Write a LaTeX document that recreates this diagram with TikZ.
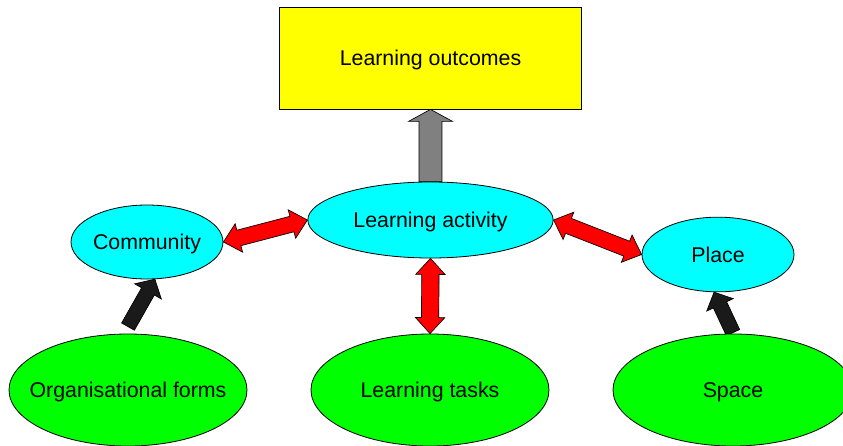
\documentclass[tikz,border=0pt]{standalone}
\usepackage{fontspec}
\setmainfont{Liberation Sans}
\usetikzlibrary{shapes.geometric,calc,backgrounds}

\definecolor{boxyellow}{RGB}{255,255,0}
\definecolor{nodecyan}{RGB}{0,255,255}
\definecolor{nodegreen}{RGB}{0,255,0}
\definecolor{arrowred}{RGB}{255,0,0}
\definecolor{arrowgray}{RGB}{128,128,128}
\definecolor{arrowdark}{RGB}{26,26,26}

\tikzset{
  every node/.style={font=\fontsize{16}{19}\selectfont, inner sep=0pt, text depth=0pt},
  outcomebox/.style={draw, line width=0.6pt, fill=boxyellow, minimum width=227pt, minimum height=76.5pt},
  midnode/.style={draw, ellipse, line width=0.6pt, fill=nodecyan, inner xsep=-4pt},
  basenode/.style={draw, ellipse, line width=0.6pt, fill=nodegreen, inner xsep=-15pt,
    minimum width=178.5pt, minimum height=84pt},
  twoway/.style={draw, line width=0.5pt, fill=arrowred},
  upward/.style={draw, line width=0.5pt, fill=arrowgray},
  feed/.style={draw, line width=0.5pt, fill=arrowdark}
}

% block arrow: style, from, to, half shaft, half head, head length
\newcommand{\blockarrow}[6]{%
  \path (#2) coordinate (ba-s) (#3) coordinate (ba-e);
  \path ($(ba-e)!#6!(ba-s)$) coordinate (ba-h);
  \draw[#1] ($(ba-s)!#4!90:(ba-e)$) -- ($(ba-h)!#4!-90:(ba-s)$) -- ($(ba-h)!#5!-90:(ba-s)$)
    -- (ba-e) -- ($(ba-h)!#5!90:(ba-s)$) -- ($(ba-h)!#4!90:(ba-s)$) -- ($(ba-s)!#4!-90:(ba-e)$) -- cycle;}

% double block arrow: style, from, to, half shaft, half head, head length
\newcommand{\dblarrow}[6]{%
  \path (#2) coordinate (ba-s) (#3) coordinate (ba-e);
  \path ($(ba-e)!#6!(ba-s)$) coordinate (ba-h) ($(ba-s)!#6!(ba-e)$) coordinate (ba-t);
  \draw[#1] (ba-s) -- ($(ba-t)!#5!90:(ba-e)$) -- ($(ba-t)!#4!90:(ba-e)$) -- ($(ba-h)!#4!-90:(ba-s)$)
    -- ($(ba-h)!#5!-90:(ba-s)$) -- (ba-e) -- ($(ba-h)!#5!90:(ba-s)$) -- ($(ba-h)!#4!90:(ba-s)$)
    -- ($(ba-t)!#4!-90:(ba-e)$) -- ($(ba-t)!#5!-90:(ba-e)$) -- cycle;}

\begin{document}
\begin{tikzpicture}[x=0.75pt, y=-0.75pt]
  \clip (0,0) rectangle (843,446);

  % top box
  \node [outcomebox] (outcomes) at (430.5,58) {Learning outcomes};

  % middle row
  \node [midnode, minimum width=184pt, minimum height=57pt] (activity) at (430.5,220) {Learning activity};
  \node [midnode, minimum width=114pt, minimum height=55.5pt] (community) at (147,242) {Community};
  \node [midnode, minimum width=114pt, minimum height=56pt] (place) at (718,254.5) {Place};

  % bottom row
  \node [basenode] (forms) at (128,390) {Organisational forms};
  \node [basenode] (tasks) at (430,390) {Learning tasks};
  \node [basenode, minimum width=180pt] (space) at (733,390) {Space};

  % arrows
  \begin{pgfonlayer}{background}
    \blockarrow{upward}{activity.north}{outcomes.south}{8.6pt}{16.5pt}{9pt}
    \dblarrow{twoway}{community.east}{activity.west}{6pt}{11pt}{12pt}
    \dblarrow{twoway}{activity.east}{place.west}{6pt}{11pt}{12pt}
    \dblarrow{twoway}{activity.south}{tasks.north}{6.5pt}{11pt}{12pt}
    \blockarrow{feed}{$(forms.north)+(0,-7)$}{community.-78}{5.5pt}{11.5pt}{10.5pt}
    \blockarrow{feed}{$(space.north)+(0,-1)$}{place.-96}{5.5pt}{11pt}{10.5pt}
  \end{pgfonlayer}
\end{tikzpicture}
\end{document}
